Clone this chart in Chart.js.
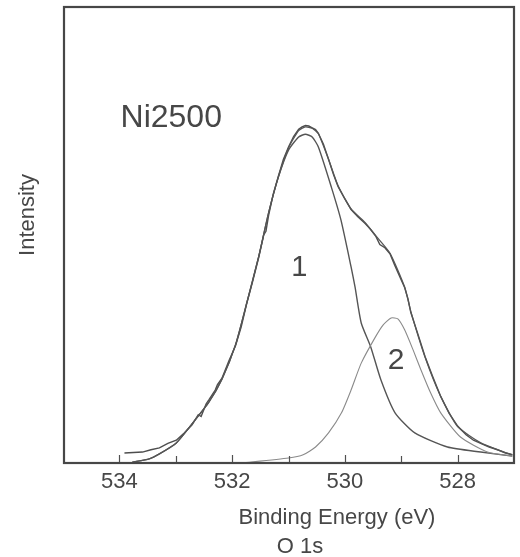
<!DOCTYPE html>
<html>
<head>
<meta charset="utf-8">
<script src="https://cdn.jsdelivr.net/npm/chart.js@4/dist/chart.umd.min.js"></script>
<style>
  body { margin: 0; background: #fff; }
  canvas { display: block; }
</style>
</head>
<body>
<canvas id="myChart" width="520" height="557"></canvas>
<script>
// O 1s spectrum of Ni2500, binding energy (eV) vs intensity (arb. units, 0-100)
var expE = [533.91, 533.75, 533.59, 533.44, 533.29, 533.14, 532.99, 532.85, 532.71, 532.60, 532.55, 532.46, 532.41, 532.30, 532.26, 532.18, 532.06, 531.94, 531.84, 531.74, 531.64, 531.53, 531.44, 531.40, 531.35, 531.27, 531.18, 531.09, 531.00, 530.91, 530.82, 530.76, 530.70, 530.64, 530.58, 530.52, 530.47, 530.38, 530.29, 530.20, 530.12, 530.00, 529.89, 529.77, 529.64, 529.55, 529.45, 529.38, 529.29, 529.20, 529.12, 529.02, 528.94, 528.88, 528.83, 528.70, 528.58, 528.45, 528.30, 528.15, 528.00, 527.85, 527.72, 527.59, 527.44, 527.29, 527.15, 527.03];
var expI = [2.2, 2.3, 2.4, 2.9, 3.3, 4.3, 5.0, 6.6, 8.4, 10.6, 10.2, 13.0, 13.9, 16.0, 17.2, 18.6, 22.3, 25.7, 29.8, 35.0, 39.6, 45.0, 50.0, 50.8, 54.5, 59.0, 62.9, 66.6, 69.3, 71.6, 73.2, 73.7, 74.0, 73.9, 73.5, 73.1, 72.3, 69.9, 66.6, 63.2, 60.6, 57.9, 55.6, 54.0, 52.5, 51.3, 49.7, 47.9, 47.2, 45.9, 43.5, 40.7, 38.5, 36.0, 33.0, 28.1, 23.4, 19.2, 14.6, 10.9, 8.1, 6.2, 5.0, 4.3, 3.5, 2.9, 2.2, 1.8];

var envE = [533.77, 533.47, 533.29, 532.99, 532.71, 532.41, 532.18, 531.94, 531.74, 531.53, 531.35, 531.18, 531.00, 530.82, 530.70, 530.58, 530.47, 530.29, 530.12, 529.89, 529.64, 529.45, 529.20, 528.94, 528.83, 528.58, 528.30, 528.00, 527.59, 527.29, 527.03];
var envI = [0.2, 0.9, 2.0, 4.4, 8.6, 13.4, 18.4, 25.9, 35.1, 45.2, 55.0, 62.7, 69.1, 72.9, 73.7, 73.4, 72.2, 66.6, 60.8, 55.7, 52.7, 49.8, 46.0, 38.6, 33.2, 23.3, 14.6, 8.0, 4.4, 2.9, 1.8];

var peak1E = [533.77, 533.47, 533.29, 532.99, 532.71, 532.41, 532.18, 531.94, 531.74, 531.53, 531.35, 531.18, 531.00, 530.82, 530.70, 530.58, 530.47, 530.24, 530.07, 529.89, 529.82, 529.71, 529.54, 529.36, 529.11, 528.76, 528.18, 527.59, 527.03];
var peak1I = [0.2, 0.9, 2.0, 4.4, 8.6, 13.4, 18.4, 25.9, 35.1, 45.2, 55.0, 62.7, 68.6, 71.5, 72.1, 71.5, 69.3, 60.5, 53.3, 43.0, 38.6, 30.7, 25.4, 18.2, 11.0, 6.6, 3.5, 2.4, 1.5];

var peak2E = [531.83, 531.00, 530.74, 530.52, 530.29, 530.06, 529.89, 529.71, 529.46, 529.32, 529.18, 529.06, 528.94, 528.79, 528.65, 528.48, 528.30, 527.95, 527.47, 527.03];
var peak2I = [0.0, 1.1, 1.8, 3.5, 6.6, 11.0, 16.0, 21.9, 27.6, 30.3, 31.8, 31.6, 29.2, 24.8, 20.4, 15.4, 11.0, 5.7, 2.4, 1.5];

var xTicks = [528, 529, 530, 531, 532, 533, 534];

// in-plot labels, placed in data coordinates
var notes = [
    { text: 'Ni2500', x: 533.08, y: 75.7, size: 32 },
    { text: '1', x: 530.81, y: 42.8, size: 29 },
    { text: '2', x: 529.09, y: 22.4, size: 30 }
];

function pts(xs, ys) {
    let out = [];
    for (let i = 0; i < xs.length; i++) out.push({ x: xs[i], y: ys[i] });
    return out;
}

var FONT = 'Arial, "Liberation Sans", sans-serif';
var TXT = '#474747';

var framePlugin = {
    id: 'frame',
    afterDatasetsDraw(chart) {
        const ctx = chart.ctx;
        const a = chart.chartArea;
        const xs = chart.scales.x;
        ctx.save();
        ctx.strokeStyle = '#505050';
        ctx.lineWidth = 1.2;
        for (const v of xTicks) {
            const px = Math.round(xs.getPixelForValue(v)) + 0.5;
            const len = (v % 2 === 0) ? 8 : 7;
            ctx.beginPath();
            ctx.moveTo(px, a.bottom);
            ctx.lineTo(px, a.bottom - len);
            ctx.stroke();
        }
        ctx.lineWidth = 2.2;
        ctx.strokeStyle = '#474747';
        ctx.strokeRect(a.left + 1, a.top, a.right - a.left - 1, a.bottom - a.top);

        ctx.fillStyle = TXT;
        ctx.textAlign = 'center';
        ctx.textBaseline = 'middle';
        for (const n of notes) {
            ctx.font = n.size + 'px ' + FONT;
            ctx.fillText(n.text, xs.getPixelForValue(n.x), chart.scales.y.getPixelForValue(n.y));
        }
        ctx.font = '22px ' + FONT;
        ctx.fillText('Binding Energy (eV)', 337, 518);
        ctx.fillText('O 1s', 300, 547);
        ctx.translate(28, 215);
        ctx.rotate(-Math.PI / 2);
        ctx.fillText('Intensity', 0, 0);
        ctx.restore();
    }
};

var ctx = document.getElementById('myChart').getContext('2d');
var myChart = new Chart(ctx, {
    type: 'scatter',
    data: {
        datasets: [
            {
                label: 'Component 2',
                data: pts(peak2E, peak2I),
                borderColor: '#8a8a8a',
                borderWidth: 1.1
            },
            {
                label: 'Component 1',
                data: pts(peak1E, peak1I),
                borderColor: '#555555',
                borderWidth: 1.4
            },
            {
                label: 'Envelope',
                data: pts(envE, envI),
                borderColor: '#555555',
                borderWidth: 1.3
            },
            {
                label: 'Experimental',
                data: pts(expE, expI),
                borderColor: '#4e4e4e',
                borderWidth: 1.4,
                tension: 0
            }
        ]
    },
    options: {
        responsive: false,
        devicePixelRatio: 1,
        animation: false,
        showLine: true,
        elements: {
            point: { radius: 0 },
            line: { tension: 0.2, fill: false }
        },
        layout: { padding: { top: 7, right: 5, bottom: 0, left: 0 } },
        plugins: {
            legend: { display: false },
            tooltip: { enabled: false }
        },
        scales: {
            x: {
                type: 'linear',
                reverse: true,
                min: 527,
                max: 535,
                grid: { display: false, drawTicks: false },
                border: { display: false },
                ticks: {
                    stepSize: 1,
                    autoSkip: false,
                    maxRotation: 0,
                    padding: 6,
                    color: TXT,
                    font: { family: FONT, size: 22 },
                    callback: function (v) { return v % 2 === 0 ? String(v) : ''; }
                },
                afterFit: function (s) { s.height = 94; }
            },
            y: {
                min: 0,
                max: 100,
                grid: { display: false, drawTicks: false },
                border: { display: false },
                ticks: { display: false },
                afterFit: function (s) { s.width = 63; }
            }
        }
    },
    plugins: [framePlugin]
});
</script>
</body>
</html>
